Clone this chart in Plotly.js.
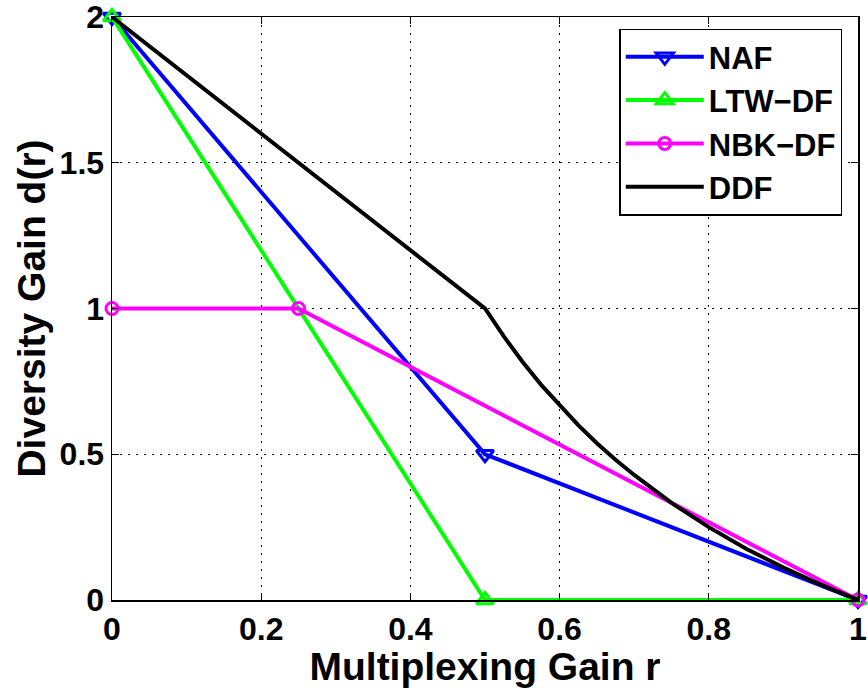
<!DOCTYPE html>
<html>
<head>
<meta charset="utf-8">
<script src="https://cdn.plot.ly/plotly-3.0.1.min.js"></script>
<style>html,body{margin:0;padding:0;background:#fff;}#chart{width:868px;height:688px;}</style>
</head>
<body>
<div id="chart"></div>
<script>
const nafR = [0, 0.5, 1];
const nafD = [2, 0.5, 0];
const ltwR = [0, 0.5, 1];
const ltwD = [2, 0, 0];
const nbkR = [0, 0.25, 1];
const nbkD = [1, 1, 0];
const ddfR = [0, 0.5, 0.525, 0.55, 0.575, 0.6, 0.625, 0.65, 0.675, 0.7, 0.75, 0.8, 0.85, 0.9, 0.95, 1];
const ddfD = [2, 1, 0.905, 0.818, 0.739, 0.667, 0.6, 0.538, 0.481, 0.429, 0.333, 0.25, 0.176, 0.111, 0.053, 0];
const xTicks = [0, 0.2, 0.4, 0.6, 0.8, 1];
const xTickText = ['0', '0.2', '0.4', '0.6', '0.8', '1'];
const yTicks = [0, 0.5, 1, 1.5, 2];
const yTickText = ['0', '0.5', '1', '1.5', '2'];

const font = {family: 'Liberation Sans, Arial, sans-serif', color: '#000', weight: 'bold'};
const lw = 4;

const traces = [
  {x: nafR, y: nafD, name: 'NAF', mode: 'lines+markers', cliponaxis: false,
   line: {color: '#0000ff', width: lw},
   marker: {symbol: 'triangle-down-open', size: 15, color: '#0000ff', line: {width: 3, color: '#0000ff'}}},
  {x: ltwR, y: ltwD, name: 'LTW\u2212DF', mode: 'lines+markers', cliponaxis: false,
   line: {color: '#00ff00', width: lw},
   marker: {symbol: 'triangle-up-open', size: 15, color: '#00ff00', line: {width: 3, color: '#00ff00'}}},
  {x: nbkR, y: nbkD, name: 'NBK\u2212DF', mode: 'lines+markers', cliponaxis: false,
   line: {color: '#ff00ff', width: lw},
   marker: {symbol: 'circle-open', size: 12, color: '#ff00ff', line: {width: 3, color: '#ff00ff'}}},
  {x: ddfR, y: ddfD, name: 'DDF', mode: 'lines', cliponaxis: false,
   line: {color: '#000000', width: lw}}
];

const axisCommon = {
  showline: true, linecolor: '#000', linewidth: 1.5, mirror: 'ticks',
  ticks: 'inside', ticklen: 7, tickwidth: 1, tickcolor: '#000',
  showgrid: true, gridcolor: '#000', gridwidth: 1, griddash: '2px,6px',
  zeroline: false, ticklabeloverflow: 'allow',
  tickfont: Object.assign({size: 32}, font)
};

const layout = {
  width: 868, height: 688,
  margin: {l: 112, r: 10, t: 17, b: 88},
  paper_bgcolor: '#fff', plot_bgcolor: '#fff',
  showlegend: true,
  xaxis: Object.assign({}, axisCommon, {
    range: [0, 1], tickvals: xTicks, ticktext: xTickText,
    title: {text: 'Multiplexing Gain r', font: Object.assign({size: 39}, font), standoff: 0}
  }),
  yaxis: Object.assign({}, axisCommon, {
    range: [0, 2], tickvals: yTicks, ticktext: yTickText,
    title: {text: 'Diversity Gain d(r)', font: Object.assign({size: 39}, font), standoff: 2}
  }),
  legend: {
    x: 0.68, y: 0.98, xanchor: 'left', yanchor: 'top',
    bgcolor: '#fff', bordercolor: '#000', borderwidth: 1.5,
    itemwidth: 78,
    font: Object.assign({size: 31}, font)
  }
};

Plotly.newPlot('chart', traces, layout, {displayModeBar: false, staticPlot: true});
</script>
</body>
</html>
